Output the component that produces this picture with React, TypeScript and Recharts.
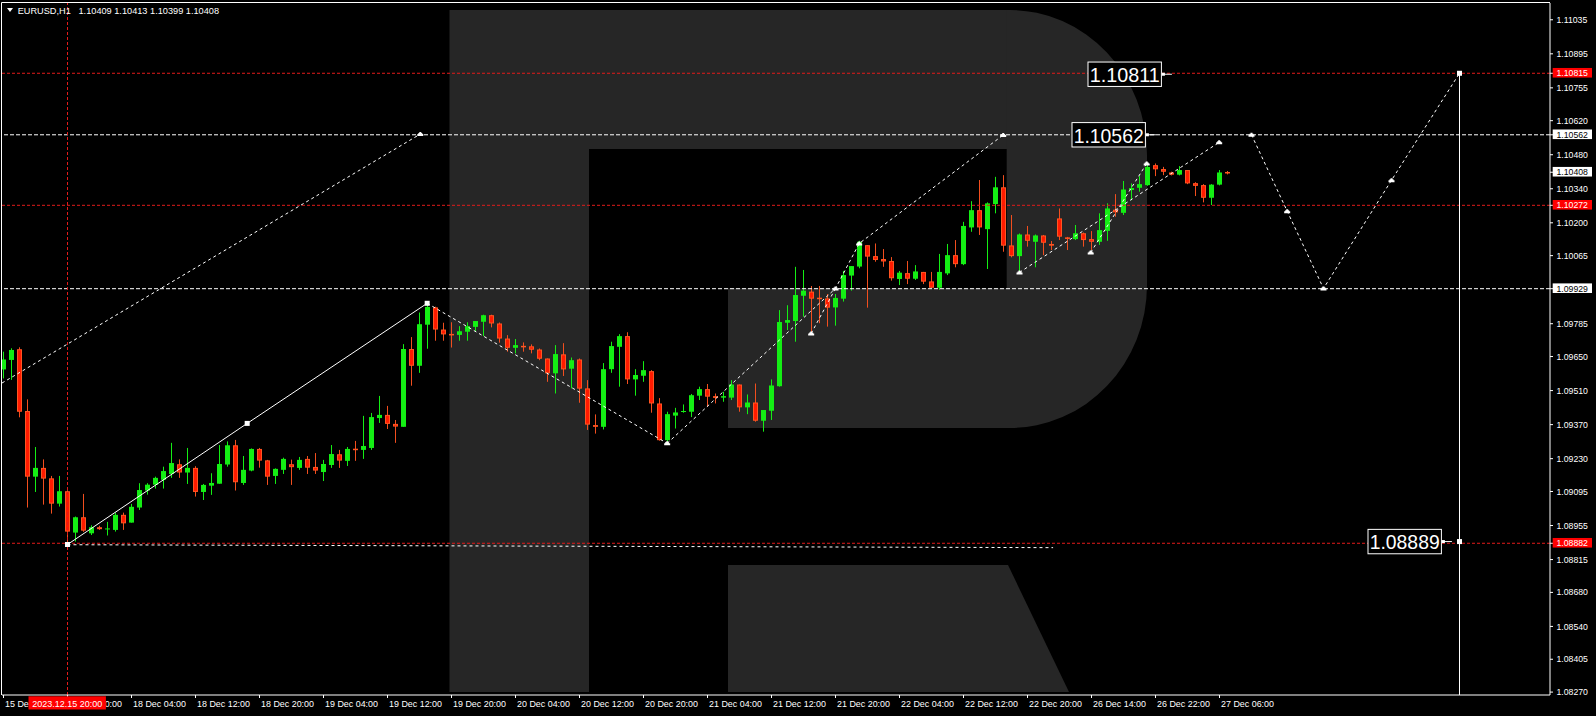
import React from "react";
import {
  ComposedChart,
  Bar,
  Line,
  Scatter,
  XAxis,
  YAxis,
  ReferenceLine,
} from "recharts";

// --- data: EURUSD H1 candles, first bar = 15 Dec 12:00 (bar -8), bar 0 = 15 Dec 20:00 ---
const FIRST_BAR = -8;

const opens = [
  1.09597, 1.09636, 1.0968, 1.09426, 1.09156, 1.09192, 1.09149, 1.09045,
  1.09096, 1.08926, 1.08989, 1.08923, 1.08948, 1.08941, 1.08937, 1.08999,
  1.08967, 1.09029, 1.09099, 1.09123, 1.09143, 1.09167, 1.09207, 1.09173,
  1.09192, 1.09093, 1.09119, 1.09127, 1.09206, 1.09285, 1.0913, 1.09181,
  1.0927, 1.09223, 1.09159, 1.09184, 1.09207, 1.09192, 1.09229, 1.09196,
  1.09175, 1.09204, 1.09248, 1.09221, 1.09271, 1.09266, 1.09274, 1.09397,
  1.0941, 1.09373, 1.09361, 1.09681, 1.09612, 1.09781, 1.09852, 1.09761,
  1.09743, 1.09739, 1.09752, 1.09772, 1.09793, 1.0982, 1.09786, 1.09724,
  1.09686, 1.09694, 1.09692, 1.09679, 1.09642, 1.09581, 1.09659, 1.096,
  1.09638, 1.09519, 1.09368, 1.09361, 1.09598, 1.0969, 1.09734, 1.09556,
  1.09571, 1.0959, 1.09457, 1.09306, 1.09407, 1.09422, 1.09423, 1.09489,
  1.09516, 1.09487, 1.09481, 1.09481, 1.09535, 1.09441, 1.09461, 1.09386,
  1.09427, 1.09528, 1.09789, 1.09796, 1.099, 1.09917, 1.09892, 1.09889,
  1.09852, 1.09888, 1.09983, 1.1002, 1.10108, 1.10063, 1.10051, 1.10043,
  1.09969, 1.09993, 1.0997, 1.09998, 1.09959, 1.09933, 1.09992, 1.10067,
  1.1003, 1.10181, 1.10252, 1.10174, 1.10277, 1.10346, 1.10107, 1.10063,
  1.10152, 1.10122, 1.10148, 1.10113, 1.10218, 1.1014, 1.10133, 1.10157,
  1.10133, 1.10122, 1.10167, 1.10254, 1.10241, 1.10335, 1.10344, 1.10355,
  1.10437, 1.10421, 1.10407, 1.10398, 1.10417, 1.10363, 1.10355, 1.10303,
  1.10357, 1.10409,
];

const highs = [
  1.0967, 1.09684, 1.09688, 1.09474, 1.09278, 1.09227, 1.09159, 1.09159,
  1.091, 1.08992, 1.09085, 1.08956, 1.08954, 1.0897, 1.09008, 1.09008,
  1.09044, 1.09129, 1.09129, 1.09156, 1.09197, 1.09295, 1.09227, 1.09274,
  1.09199, 1.09126, 1.0917, 1.09286, 1.09301, 1.09307, 1.09241, 1.09272,
  1.09274, 1.09225, 1.0919, 1.09234, 1.09226, 1.09237, 1.09241, 1.09253,
  1.09225, 1.09286, 1.09266, 1.09278, 1.09303, 1.09406, 1.09418, 1.09488,
  1.09447, 1.09389, 1.09701, 1.0973, 1.09831, 1.09868, 1.09855, 1.09789,
  1.09791, 1.09775, 1.09791, 1.09796, 1.09822, 1.09822, 1.0979, 1.09738,
  1.09722, 1.09708, 1.097, 1.09683, 1.09642, 1.09697, 1.09705, 1.09646,
  1.09642, 1.09553, 1.09412, 1.09623, 1.09711, 1.09742, 1.0975, 1.09598,
  1.09631, 1.09594, 1.09479, 1.09423, 1.09439, 1.09453, 1.09496, 1.09526,
  1.09537, 1.09498, 1.09505, 1.09553, 1.09535, 1.09494, 1.09539, 1.0943,
  1.09556, 1.09841, 1.09861, 1.10019, 1.10006, 1.0994, 1.0994, 1.09907,
  1.09907, 1.10002, 1.10022, 1.10126, 1.10108, 1.10115, 1.10092, 1.10059,
  1.10002, 1.10043, 1.10026, 1.09998, 1.09998, 1.10072, 1.10113, 1.10129,
  1.10204, 1.10289, 1.10376, 1.10284, 1.10389, 1.10396, 1.10232, 1.10156,
  1.10187, 1.10152, 1.1015, 1.10125, 1.10259, 1.10142, 1.10191, 1.1016,
  1.10166, 1.10239, 1.1028, 1.10318, 1.10372, 1.10362, 1.10392, 1.10447,
  1.10444, 1.1043, 1.1041, 1.10433, 1.10417, 1.10367, 1.10359, 1.10359,
  1.10417, 1.10413,
];

const lows = [
  1.0956, 1.09554, 1.094, 1.09029, 1.09093, 1.09041, 1.09004, 1.09033,
  1.08882, 1.08889, 1.08929, 1.08916, 1.08937, 1.08914, 1.0893, 1.08937,
  1.08967, 1.09019, 1.09082, 1.09107, 1.09107, 1.09151, 1.09151, 1.09126,
  1.09074, 1.0906, 1.09081, 1.09127, 1.09197, 1.09099, 1.09122, 1.09178,
  1.09193, 1.09122, 1.09126, 1.09167, 1.09122, 1.09184, 1.09167, 1.09167,
  1.09138, 1.09192, 1.09192, 1.092, 1.09221, 1.09229, 1.09266, 1.09377,
  1.09352, 1.09295, 1.09361, 1.0953, 1.09583, 1.09682, 1.09715, 1.09715,
  1.09687, 1.09715, 1.09715, 1.09753, 1.09734, 1.0977, 1.09707, 1.0967,
  1.09663, 1.0967, 1.09663, 1.09635, 1.09546, 1.09498, 1.0957, 1.09519,
  1.0946, 1.09348, 1.09333, 1.0935, 1.09583, 1.09526, 1.09537, 1.09489,
  1.09546, 1.09419, 1.09304, 1.09286, 1.09354, 1.09419, 1.09401, 1.09471,
  1.09443, 1.09457, 1.09464, 1.09471, 1.09423, 1.09413, 1.09382, 1.09341,
  1.09389, 1.09526, 1.09759, 1.09711, 1.09814, 1.09739, 1.09787, 1.09773,
  1.09777, 1.09876, 1.09921, 1.10013, 1.09851, 1.1004, 1.10019, 1.09962,
  1.09944, 1.09948, 1.09965, 1.09948, 1.09933, 1.09924, 1.09985, 1.10017,
  1.10026, 1.10163, 1.1015, 1.1001, 1.10239, 1.10081, 1.10058, 1.09999,
  1.10102, 1.10017, 1.10067, 1.10088, 1.10129, 1.10088, 1.10129, 1.10102,
  1.10088, 1.10109, 1.10126, 1.10225, 1.10232, 1.10293, 1.10328, 1.10352,
  1.10392, 1.10396, 1.10395, 1.10395, 1.10359, 1.1031, 1.10284, 1.10273,
  1.10354, 1.10399,
];

const closes = [
  1.09638, 1.09677, 1.09423, 1.09156, 1.09192, 1.09148, 1.09045, 1.09096,
  1.0893, 1.08989, 1.08934, 1.08948, 1.0894, 1.08943, 1.08999, 1.08964,
  1.09032, 1.09101, 1.09123, 1.09151, 1.09179, 1.09212, 1.09173, 1.09192,
  1.09093, 1.09122, 1.0913, 1.09208, 1.09285, 1.09133, 1.09184, 1.0927,
  1.09222, 1.09156, 1.09188, 1.09229, 1.09195, 1.09225, 1.09193, 1.09181,
  1.09208, 1.09249, 1.09222, 1.0927, 1.09269, 1.09282, 1.09401, 1.0941,
  1.09373, 1.09362, 1.09681, 1.09612, 1.09783, 1.09854, 1.09761, 1.09741,
  1.09741, 1.09754, 1.09775, 1.09796, 1.0982, 1.09786, 1.09724, 1.09686,
  1.09697, 1.09689, 1.09678, 1.09641, 1.09581, 1.0966, 1.09597, 1.09635,
  1.09518, 1.0937, 1.09361, 1.09598, 1.09693, 1.09734, 1.09556, 1.09574,
  1.09594, 1.09457, 1.09306, 1.09413, 1.0942, 1.09426, 1.09491, 1.09516,
  1.09485, 1.0948, 1.09487, 1.09535, 1.09441, 1.09461, 1.09386, 1.0943,
  1.09531, 1.09792, 1.098, 1.09903, 1.09921, 1.09888, 1.09888, 1.09851,
  1.09891, 1.09985, 1.10022, 1.10122, 1.10061, 1.10047, 1.10041, 1.09972,
  1.09995, 1.0997, 1.1, 1.09958, 1.09933, 1.09998, 1.10067, 1.1003,
  1.10187, 1.10252, 1.10181, 1.1028, 1.10346, 1.10106, 1.10063, 1.10152,
  1.10126, 1.10148, 1.10118, 1.10106, 1.10143, 1.10135, 1.10157, 1.10129,
  1.10122, 1.1017, 1.10259, 1.10243, 1.10337, 1.10343, 1.10359, 1.1043,
  1.1042, 1.1041, 1.10398, 1.10417, 1.10362, 1.10352, 1.10303, 1.10357,
  1.10407, 1.10408,
];

// time axis: one label every 8 bars
const timeTicks = [-8, 0, 8, 16, 24, 32, 40, 48, 56, 64, 72, 80, 88, 96, 104, 112, 120, 128, 136, 144];
const timeLabels = [
  "15 Dec 12:00", "15 Dec 20:00", "18 Dec 04:00", "18 Dec 12:00", "18 Dec 20:00",
  "19 Dec 04:00", "19 Dec 12:00", "19 Dec 20:00", "20 Dec 04:00", "20 Dec 12:00",
  "20 Dec 20:00", "21 Dec 04:00", "21 Dec 12:00", "21 Dec 20:00", "22 Dec 04:00",
  "22 Dec 12:00", "22 Dec 20:00", "26 Dec 14:00", "26 Dec 22:00", "27 Dec 06:00",
];
const crosshairBar = 0;
const crosshairLabel = "2023.12.15 20:00";

// price axis
const priceTicks = [
  1.11035, 1.10895, 1.10755, 1.1062, 1.1048, 1.1034, 1.102, 1.10065, 1.09785,
  1.0965, 1.0951, 1.0937, 1.0923, 1.09095, 1.08955, 1.08815, 1.0868, 1.0854,
  1.08405, 1.0827,
];
const priceTickLabels = [
  "1.11035", "1.10895", "1.10755", "1.10620", "1.10480", "1.10340", "1.10200",
  "1.10065", "1.09785", "1.09650", "1.09510", "1.09370", "1.09230", "1.09095",
  "1.08955", "1.08815", "1.08680", "1.08540", "1.08405", "1.08270",
];
const markedLevels = [1.10815, 1.10562, 1.10408, 1.10272, 1.09929, 1.08882];
const markedLabels = ["1.10815", "1.10562", "1.10408", "1.10272", "1.09929", "1.08882"];
const markedIsRed = [true, false, false, true, false, true];

// horizontal levels on the chart
const redLevels = [1.10815, 1.10272, 1.08882];
const whiteLevels = [1.10562, 1.09929];

// wave drawings: [bar, price, marker]  marker 1 = arrow, 2 = square
const guideTop = [[-8.19, 1.09541], [44.1, 1.10565, 1]];
const waveSolid = [[0, 1.08877, 2], [22.46, 1.09375, 2], [44.96, 1.09869, 2]];
const waveDown = [[44.96, 1.09869], [74.96, 1.09293, 1]];
const waveUp = [[74.96, 1.09293], [96, 1.0993, 1], [98.96, 1.10115, 1], [116.96, 1.10561, 1]];
const waveUpInner = [[92.96, 1.09745, 1], [96, 1.0993]];
const waveLast = [[119, 1.09996, 1], [143.96, 1.10531, 1]];
const waveLastInner = [[127.9, 1.10078, 1], [134.9, 1.10444, 1]];
const forecast = [[148, 1.10562, 1], [152.46, 1.10248, 1], [157, 1.0993, 1], [165.5, 1.10375, 1], [174, 1.10815, 2]];
const baseGuide = [[0, 1.08876], [123.2, 1.08864]];
const targetStem = [[174, 1.10815], [174, 1.08889, 2], [174, 1.08258]];

// boxed price labels: [bar of right edge, price]
const priceBoxes = [[136.8, 1.10811], [134.8, 1.10562], [171.8, 1.08889]];
const priceBoxLabels = ["1.10811", "1.10562", "1.08889"];

const header = "EURUSD,H1";
const headerPrices = "1.10409 1.10413 1.10399 1.10408";

// --- look ---
const W = 1596;
const H = 716;
const X_DOMAIN: [number, number] = [-8.1875, 185.3125];
const Y_DOMAIN: [number, number] = [1.08258, 1.11104];
const FONT = "'Liberation Sans', Arial, sans-serif";
const GREEN = "#14ee14";
const RED_BODY = "#ff1a00";
const RED_EDGE = "#ff5522";
const RED_WICK = "#f24e1e";
const RED_LINE = "#e31b1b";

const candles = opens.map((o, k) => ({
  i: k + FIRST_BAR,
  o,
  h: highs[k],
  l: lows[k],
  c: closes[k],
  range: [lows[k], highs[k]],
}));

const toPts = (arr: number[][]) => arr.map(([i, p, m]) => ({ i, p, m }));

function Candle(props: any) {
  const { x, y, width, height, payload } = props;
  if (x == null || !payload) return <g />;
  const { o, h, l, c } = payload;
  const top = Math.min(y, y + height);
  const bottom = Math.max(y, y + height);
  const span = h - l;
  const toY = (v: number) => (span > 0 ? top + ((h - v) / span) * (bottom - top) : top);
  const mid = x + width / 2;
  const up = c >= o;
  const yO = toY(o);
  const yC = toY(c);
  const bTop = Math.min(yO, yC);
  const bh = Math.max(Math.abs(yO - yC), 1);
  return (
    <g>
      <line x1={mid} x2={mid} y1={top} y2={bottom} stroke={up ? GREEN : RED_WICK} strokeWidth={1} />
      {up ? (
        <rect x={mid - 2.5} y={bTop} width={5} height={bh} fill={GREEN} />
      ) : (
        <rect
          x={mid - 2}
          y={bTop + 0.5}
          width={4}
          height={Math.max(bh - 1, 0.5)}
          fill={RED_BODY}
          stroke={RED_EDGE}
          strokeWidth={1}
        />
      )}
    </g>
  );
}

function renderMarker(props: any) {
  const { cx, cy, payload, index } = props;
  if (cx == null || !payload || !payload.m) return <g key={index} />;
  if (payload.m === 2) {
    return <rect key={index} x={cx - 2.5} y={cy - 2.5} width={5} height={5} fill="#fff" />;
  }
  return (
    <path
      key={index}
      d={`M${cx - 3},${cy + 2} h6 v-2 h-1 v-1 h-1 v-1 h-2 v1 h-1 v1 h-1 z`}
      fill="#fff"
    />
  );
}

function PriceBox(props: any) {
  const { cx, cy, index } = props;
  if (cx == null) return <g />;
  const w = 74.4;
  const h = 24.4;
  return (
    <g>
      <rect x={cx - w + 0.5} y={cy - h / 2} width={w - 1} height={h} fill="#000" stroke="#fff" strokeWidth={1} />
      <text
        x={cx - w / 2}
        y={cy + 7.8}
        fill="#fff"
        fontSize={21}
        fontFamily={FONT}
        textAnchor="middle"
        textLength={70}
        lengthAdjust="spacingAndGlyphs"
      >
        {priceBoxLabels[index]}
      </text>
      <rect x={cx} y={cy - 1.5} width={3} height={3} fill="#fff" />
      <line x1={cx} x2={cx + 10} y1={cy} y2={cy} stroke="#fff" strokeWidth={1} />
    </g>
  );
}

function TimeTick(props: any) {
  const { x, y, payload } = props;
  const k = timeTicks.indexOf(payload.value);
  return (
    <g>
      <text
        x={x + 1.5}
        y={y + 7}
        fill="#fff"
        fontSize={8.5}
        fontFamily={FONT}
        textLength={53}
        lengthAdjust="spacingAndGlyphs"
      >
        {timeLabels[k]}
      </text>
      {payload.value === crosshairBar && (
        <g>
          <rect x={x - 39} y={y - 3.7} width={77.4} height={13.2} fill="#ff0000" />
          <text
            x={x - 0.3}
            y={y + 7}
            fill="#fff"
            fontSize={9}
            fontFamily={FONT}
            textAnchor="middle"
            textLength={70}
            lengthAdjust="spacingAndGlyphs"
          >
            {crosshairLabel}
          </text>
        </g>
      )}
    </g>
  );
}

function PriceTick(props: any) {
  const { x, y, payload } = props;
  const k = markedLevels.indexOf(payload.value);
  if (k < 0) {
    const j = priceTicks.indexOf(payload.value);
    return (
      <text x={x + 0.5} y={y + 3.1} fill="#fff" fontSize={8.7} fontFamily={FONT}>
        {priceTickLabels[j]}
      </text>
    );
  }
  const red = markedIsRed[k];
  return (
    <g>
      <rect x={x - 3.3} y={y - 5.3} width={39.3} height={9.6} fill={red ? "#ff0000" : "#fff"} />
      <text x={x + 0.5} y={y + 3.1} fill={red ? "#fff" : "#000"} fontSize={8.7} fontFamily={FONT}>
        {markedLabels[k]}
      </text>
    </g>
  );
}

function Watermark() {
  return (
    <svg width={W} height={H} style={{ position: "absolute", left: 0, top: 0 }}>
      <g fill="#262626">
        <rect x={449.5} y={10} width={139.5} height={682} />
        <rect x={589} y={10} width={421} height={139} />
        <path d="M1006.7 10 L1010 10 A137 145 0 0 1 1147 155 L1147 285 A137 143 0 0 1 1010 428 L728 428 L728 288.3 L1006.7 288.3 Z" />
        <path d="M728 565 L1008 565 L1069 692 L728 692 Z" />
      </g>
    </svg>
  );
}

function Overlay() {
  return (
    <svg width={W} height={H} style={{ position: "absolute", left: 0, top: 0, pointerEvents: "none" }}>
      <line x1={1.5} x2={1550} y1={2.5} y2={2.5} stroke="#fff" strokeWidth={1} />
      <line x1={1.5} x2={1.5} y1={2.5} y2={695} stroke="#fff" strokeWidth={1} />
      <path d="M7 8 L13 8 L10 12 Z" fill="#fff" />
      <text x={17.7} y={14} fill="#fff" fontSize={9.2} fontFamily={FONT}>
        {header}
      </text>
      <text x={78.5} y={14} fill="#fff" fontSize={9.2} fontFamily={FONT}>
        {headerPrices}
      </text>
    </svg>
  );
}

const dashed = { stroke: "#fff", strokeWidth: 1, strokeDasharray: "3 3" };

export default function App() {
  return (
    <div
      style={{
        position: "fixed",
        left: 0,
        top: 0,
        width: W,
        height: H,
        background: "#000",
        overflow: "hidden",
      }}
    >
      <Watermark />
      <div style={{ position: "absolute", left: 0, top: 0 }}>
        <ComposedChart width={W} height={H} data={candles} margin={{ top: 3, right: 0, bottom: 0, left: 2 }}>
          <XAxis
            type="number"
            dataKey="i"
            domain={X_DOMAIN}
            allowDataOverflow
            ticks={timeTicks}
            interval={0}
            height={21}
            tickSize={3}
            axisLine={{ stroke: "#fff" }}
            tickLine={{ stroke: "#fff" }}
            tick={<TimeTick />}
          />
          <XAxis xAxisId="lines" type="number" dataKey="i" domain={X_DOMAIN} allowDataOverflow hide />
          <YAxis
            orientation="right"
            type="number"
            domain={Y_DOMAIN}
            allowDataOverflow
            ticks={[...priceTicks, ...markedLevels]}
            interval={0}
            width={46}
            tickSize={3}
            tickMargin={3}
            axisLine={{ stroke: "#fff" }}
            tickLine={{ stroke: "#fff" }}
            tick={<PriceTick />}
          />

          {redLevels.map((v) => (
            <ReferenceLine key={"r" + v} y={v} stroke={RED_LINE} strokeDasharray="3 2" />
          ))}
          {whiteLevels.map((v) => (
            <ReferenceLine key={"w" + v} y={v} stroke="#fff" strokeDasharray="4 2" />
          ))}
          <ReferenceLine x={crosshairBar} stroke={RED_LINE} strokeDasharray="3 2" />

          <Bar dataKey="range" barSize={6} shape={<Candle />} isAnimationActive={false} />

          <Line xAxisId="lines" data={toPts(guideTop)} dataKey="p" {...dashed} dot={renderMarker} activeDot={false} isAnimationActive={false} />
          <Line xAxisId="lines" data={toPts(waveSolid)} dataKey="p" stroke="#fff" strokeWidth={1} dot={renderMarker} activeDot={false} isAnimationActive={false} />
          <Line xAxisId="lines" data={toPts(waveDown)} dataKey="p" {...dashed} dot={renderMarker} activeDot={false} isAnimationActive={false} />
          <Line xAxisId="lines" data={toPts(waveUp)} dataKey="p" {...dashed} dot={renderMarker} activeDot={false} isAnimationActive={false} />
          <Line xAxisId="lines" data={toPts(waveUpInner)} dataKey="p" {...dashed} dot={renderMarker} activeDot={false} isAnimationActive={false} />
          <Line xAxisId="lines" data={toPts(waveLast)} dataKey="p" {...dashed} dot={renderMarker} activeDot={false} isAnimationActive={false} />
          <Line xAxisId="lines" data={toPts(waveLastInner)} dataKey="p" {...dashed} dot={renderMarker} activeDot={false} isAnimationActive={false} />
          <Line xAxisId="lines" data={toPts(forecast)} dataKey="p" {...dashed} dot={renderMarker} activeDot={false} isAnimationActive={false} />
          <Line xAxisId="lines" data={toPts(baseGuide)} dataKey="p" {...dashed} dot={false} activeDot={false} isAnimationActive={false} />
          <Line xAxisId="lines" data={toPts(targetStem)} dataKey="p" stroke="#fff" strokeWidth={1} dot={renderMarker} activeDot={false} isAnimationActive={false} />

          <Scatter xAxisId="lines" data={toPts(priceBoxes)} dataKey="p" shape={<PriceBox />} isAnimationActive={false} />
        </ComposedChart>
      </div>
      <Overlay />
    </div>
  );
}
